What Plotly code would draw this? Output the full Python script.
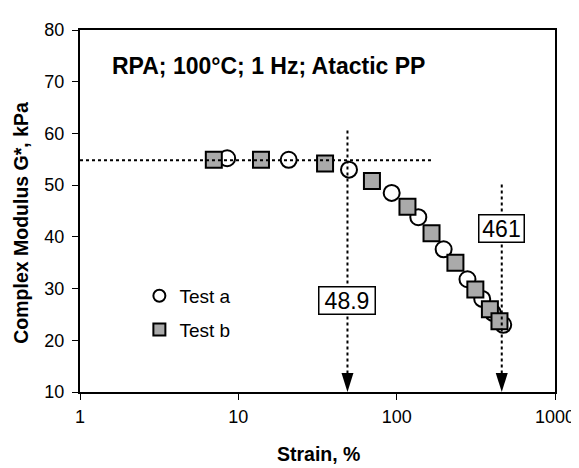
import math
import plotly.graph_objects as go

# Test a (circles)
strain_a = [8.5, 20.8, 50.0, 93, 137, 198, 280, 347, 405, 471]
gstar_a = [55.2, 54.9, 53.0, 48.5, 43.8, 37.6, 31.8, 28.0, 25.3, 23.0]
# Test b (squares)
strain_b = [7.0, 13.9, 35.3, 69.8, 117, 166, 235, 314, 388, 446]
gstar_b = [54.9, 54.9, 54.2, 50.8, 45.8, 40.7, 35.0, 29.8, 26.0, 23.7]

plateau_g = 54.8
plateau_end = 166
crit_strains = [48.9, 461]
crit_labels = ["48.9", "461"]
crit_line_tops = [61.0, 50.4]
crit_box_y = [27.7, 41.6]
x_ticks = [1, 10, 100, 1000]
y_ticks = [10, 20, 30, 40, 50, 60, 70, 80]

FONT = "Arial, Liberation Sans, sans-serif"

fig = go.Figure()
fig.add_trace(go.Scatter(
    x=strain_a, y=gstar_a, mode="markers", name="Test a", legendgroup="a",
    marker=dict(symbol="circle", size=16, color="white",
                line=dict(color="black", width=2)),
))
fig.add_trace(go.Scatter(
    x=strain_b, y=gstar_b, mode="markers", name="Test b", legendgroup="b",
    marker=dict(symbol="square", size=16, color="#aaaaaa",
                line=dict(color="black", width=2)),
))

shapes = [
    dict(type="line", xref="x", yref="y", x0=1, x1=plateau_end,
         y0=plateau_g, y1=plateau_g, line=dict(color="black", width=2, dash="dot")),
]
annotations = []
for xs, top, lab, by in zip(crit_strains, crit_line_tops, crit_labels, crit_box_y):
    shapes.append(dict(type="line", xref="x", yref="y", x0=xs, x1=xs,
                       y0=13.6, y1=top,
                       line=dict(color="black", width=2, dash="dot")))
    shapes.append(dict(type="path", xref="x", yref="y",
                       xsizemode="pixel", ysizemode="pixel",
                       xanchor=xs, yanchor=10,
                       path="M-6,19 L6,19 L0,0 Z",
                       fillcolor="black", line=dict(width=0)))
    annotations.append(dict(
        x=math.log10(xs), y=by, xref="x", yref="y", text=lab, showarrow=False,
        font=dict(family=FONT, size=23, color="black"),
        bgcolor="white", bordercolor="black", borderwidth=1.5, borderpad=1,
        width=(53 if len(lab) > 3 else 42), height=24, align="center",
    ))

annotations.append(dict(
    x=0.063, y=0.90, xref="paper", yref="paper", xanchor="left", yanchor="middle",
    text="<b>RPA; 100°C; 1 Hz; Atactic PP</b>", showarrow=False,
    font=dict(family=FONT, size=23, color="black"),
))
annotations.append(dict(
    x=0.503, y=-0.205, xref="paper", yref="paper", xanchor="center", yanchor="bottom",
    text="<b>Strain, %</b>", showarrow=False, borderpad=0,
    font=dict(family=FONT, size=19.5, color="black"),
))
annotations.append(dict(
    x=-0.126, y=0.468, xref="paper", yref="paper", xanchor="center", yanchor="middle",
    text="<b>Complex Modulus G*, kPa</b>", showarrow=False, textangle=-90,
    font=dict(family=FONT, size=19.5, color="black"),
))

# page body adds an 8px offset; margins compensate so the plot area sits at x 80-557, y 20-392
fig.update_layout(
    width=579, height=468,
    margin=dict(l=72, r=30, t=12, b=84),
    paper_bgcolor="white", plot_bgcolor="white",
    font=dict(family=FONT, size=18, color="black"),
    showlegend=True,
    legend=dict(x=0.125, y=0.318, xanchor="left", yanchor="top",
                bgcolor="rgba(0,0,0,0)", itemsizing="constant",
                tracegroupgap=6, font=dict(family=FONT, size=19, color="black")),
    shapes=shapes, annotations=annotations,
)
fig.update_xaxes(
    type="log", range=[0, 3], tickvals=x_ticks, ticktext=[str(v) for v in x_ticks],
    showgrid=False, zeroline=False, showline=True, linecolor="black", linewidth=2,
    mirror=True, ticks="outside", ticklen=6, tickwidth=1, tickcolor="black",
    ticklabelstandoff=1,
)
fig.update_yaxes(
    range=[10, 80], tickvals=y_ticks, showgrid=False, zeroline=False,
    showline=True, linecolor="black", linewidth=2, mirror=True,
    ticks="outside", ticklen=6, tickwidth=1, tickcolor="black",
    ticklabelstandoff=4,
)

fig.write_html("out.html")
